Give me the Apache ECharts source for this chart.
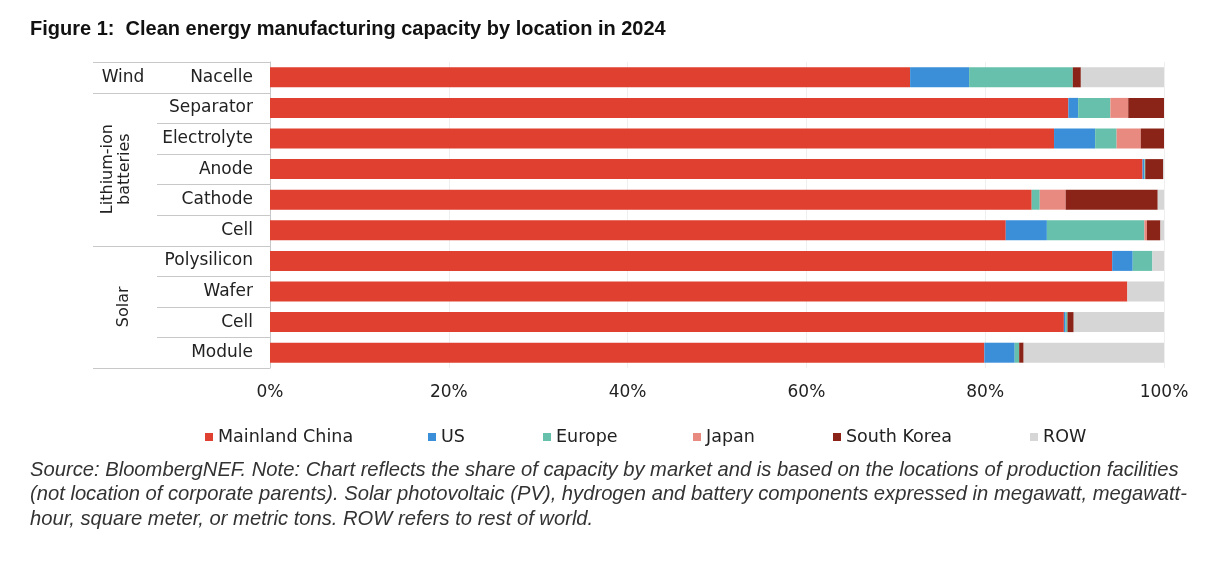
<!DOCTYPE html>
<html>
<head>
<meta charset="utf-8">
<script src="https://cdn.jsdelivr.net/npm/echarts@6/dist/echarts.min.js"></script>
<style>
  html, body { margin: 0; padding: 0; background: #fff; }
  #main { width: 1224px; height: 570px; }
</style>
</head>
<body>
<div id="main"></div>
<script>
// categories top to bottom
var categories = ['Nacelle', 'Separator', 'Electrolyte', 'Anode', 'Cathode', 'Cell', 'Polysilicon', 'Wafer', 'Cell', 'Module'];
// groups: name, first row, last row
var groups = [['Wind', 0, 0], ['Lithium-ion\nbatteries', 1, 5], ['Solar', 6, 9]];
var xTicks = [0, 20, 40, 60, 80, 100];

// share of capacity, %
var china  = [71.6, 89.3, 87.7, 97.6, 85.2, 82.3, 94.2, 95.9, 88.8, 79.9];
var us     = [6.6, 1.1, 4.6, 0.2, 0, 4.6, 2.3, 0, 0.2, 3.4];
var europe = [11.6, 3.6, 2.4, 0.1, 0.9, 10.9, 2.2, 0, 0.2, 0.5];
var japan  = [0, 2.0, 2.7, 0, 2.9, 0.3, 0, 0, 0, 0];
var korea  = [0.9, 4.0, 2.6, 2.0, 10.3, 1.5, 0, 0, 0.7, 0.5];
var row    = [9.3, 0, 0, 0.1, 0.7, 0.4, 1.3, 4.1, 10.1, 15.7];

var seriesNames = ['Mainland China', 'US', 'Europe', 'Japan', 'South Korea', 'ROW'];
var colors = ['#e0402f', '#3b8fd9', '#66c0ab', '#e98a80', '#8b2418', '#d6d6d6'];
var legendLeft = [205, 428, 543, 693, 833, 1030];

var myChart = echarts.init(document.getElementById('main'));

var allData = [china, us, europe, japan, korea, row];
var series = seriesNames.map(function (name, i) {
    return {
        name: name,
        type: 'bar',
        stack: 'total',
        barWidth: 20,
        itemStyle: { color: colors[i] },
        data: allData[i]
    };
});

var legends = seriesNames.map(function (name, i) {
    return {
        data: [name],
        left: legendLeft[i],
        top: 428,
        padding: 0,
        icon: 'rect',
        itemWidth: 8,
        itemHeight: 8,
        selectedMode: false,
        textStyle: { fontFamily: 'DejaVu Sans', fontSize: 17.5, color: '#222' }
    };
});

var footnote = 'Source: BloombergNEF. Note: Chart reflects the share of capacity by market and is based on the locations of production facilities\n' +
    '(not location of corporate parents). Solar photovoltaic (PV), hydrogen and battery components expressed in megawatt, megawatt-\n' +
    'hour, square meter, or metric tons. ROW refers to rest of world.';

myChart.setOption({
    animation: false,
    color: colors,
    title: [{
        text: 'Figure 1:  Clean energy manufacturing capacity by location in 2024',
        left: 25,
        top: 14,
        textStyle: { fontFamily: 'Liberation Sans', fontSize: 20, fontWeight: 'bold', color: '#111' }
    }, {
        text: footnote,
        left: 25,
        top: 453,
        textStyle: { fontFamily: 'Liberation Sans', fontSize: 20.2, fontStyle: 'italic', fontWeight: 'normal', color: '#333', lineHeight: 24.5 }
    }],
    legend: legends,
    grid: { left: 270, right: 60, top: 62, bottom: 202, containLabel: false },
    xAxis: {
        type: 'value',
        min: xTicks[0],
        max: xTicks[xTicks.length - 1],
        interval: 20,
        axisLine: { show: false },
        axisTick: { show: false },
        splitLine: { lineStyle: { color: '#efefef', width: 1 } },
        axisLabel: {
            margin: 16,
            fontFamily: 'DejaVu Sans',
            fontSize: 17,
            color: '#222',
            formatter: '{value}%'
        }
    },
    yAxis: {
        type: 'category',
        inverse: true,
        data: categories,
        axisLine: { show: true, lineStyle: { color: '#c8c8c8' } },
        axisTick: { show: false },
        axisLabel: {
            margin: 17,
            fontFamily: 'DejaVu Sans',
            fontSize: 17,
            color: '#222'
        }
    },
    series: series
});

// table lines and group labels next to the category axis
var x0 = 93, xInner = 157, xAxisPos = 270;
var band = myChart.convertToPixel({ yAxisIndex: 0 }, 1) - myChart.convertToPixel({ yAxisIndex: 0 }, 0);
function rowTop(i) { return myChart.convertToPixel({ yAxisIndex: 0 }, i) - band / 2; }

var graphics = [];
var groupStarts = groups.map(function (g) { return g[1]; });
for (var i = 0; i <= categories.length; i++) {
    var y = Math.round(rowTop(i)) + 0.5;
    var isGroupEdge = i === categories.length || groupStarts.indexOf(i) >= 0;
    graphics.push({
        type: 'line',
        shape: { x1: isGroupEdge ? x0 : xInner, y1: y, x2: xAxisPos, y2: y },
        style: { stroke: '#c8c8c8', lineWidth: 1 }
    });
}
groups.forEach(function (g) {
    var yc = (rowTop(g[1]) + rowTop(g[2] + 1)) / 2;
    var vertical = g[2] > g[1];
    var twoLines = g[0].indexOf('\n') >= 0;
    graphics.push({
        type: 'text',
        x: vertical ? (twoLines ? 116 : 124) : 123,
        y: yc,
        rotation: vertical ? Math.PI / 2 : 0,
        style: {
            text: g[0],
            fontFamily: 'DejaVu Sans',
            fontSize: vertical ? 16 : 17,
            fill: '#222',
            align: 'center',
            verticalAlign: 'middle',
            lineHeight: 17
        }
    });
});
myChart.setOption({ graphic: graphics });
</script>
</body>
</html>
